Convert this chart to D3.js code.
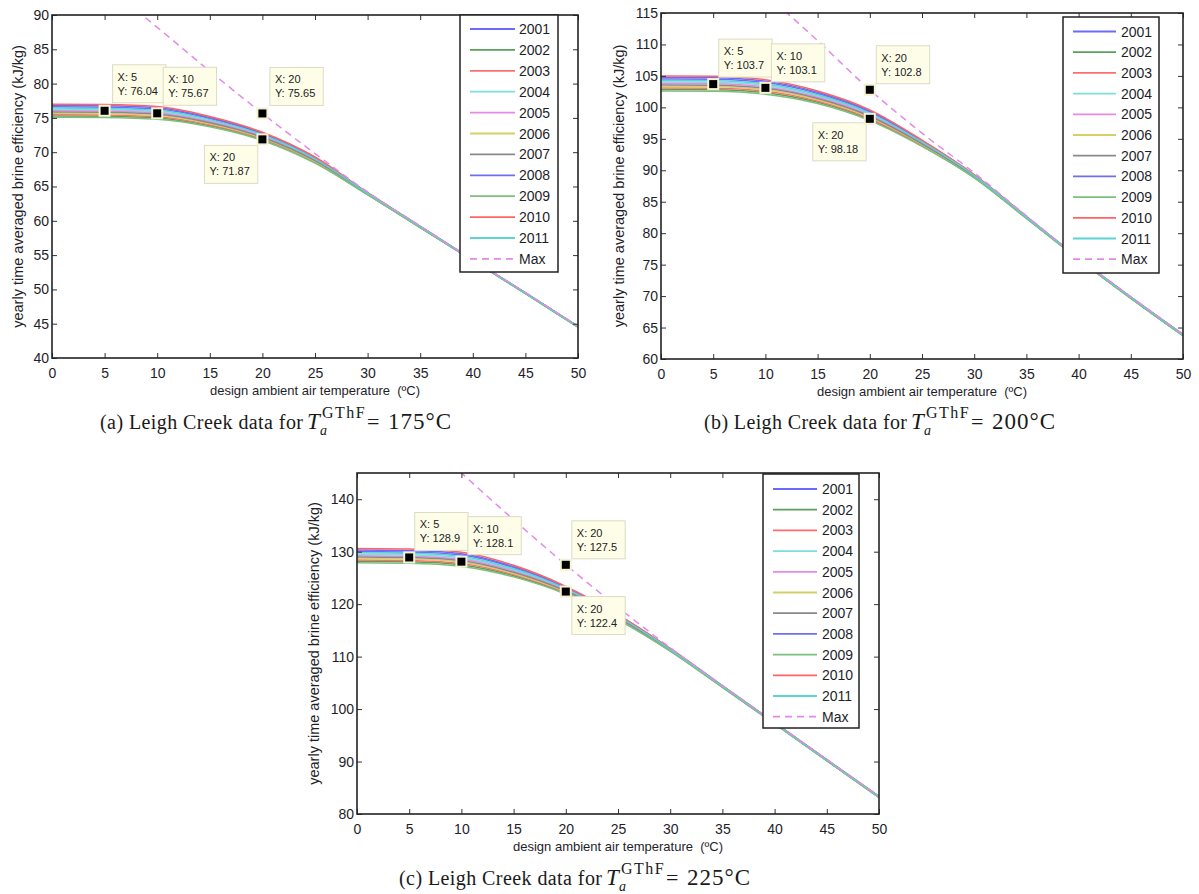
<!DOCTYPE html>
<html><head><meta charset="utf-8">
<script src="https://cdn.jsdelivr.net/npm/d3@7"></script>
<style>body{margin:0;background:#fff}svg{display:block}</style>
</head><body>
<svg id="fig" width="1199" height="894"></svg>
<script>
// ---------------- DATA ----------------
const years = ["2001","2002","2003","2004","2005","2006","2007","2008","2009","2010","2011"];
const xTemps = [0,5,10,15,20,25,30,35,40,45,50];
const xTicks = [0,5,10,15,20,25,30,35,40,45,50];

// Panel (a) T = 175°C
const effA = [
  [76.81,76.76,76.47,75.05,72.78,69.21,64.07,59.18,54.29,49.49,44.59], // 2001
  [75.29,75.24,74.99,73.85,71.82,68.49,63.83,59.02,54.21,49.41,44.51], // 2002
  [75.48,75.43,75.17,74.00,71.94,68.58,63.86,59.04,54.22,49.42,44.52], // 2003
  [76.24,76.19,75.91,74.60,72.42,68.94,63.98,59.12,54.26,49.46,44.56], // 2004
  [76.05,76.00,75.73,74.45,72.30,68.85,63.95,59.10,54.25,49.45,44.55], // 2005
  [75.67,75.62,75.36,74.15,72.06,68.67,63.89,59.06,54.23,49.43,44.53], // 2006
  [75.86,75.81,75.54,74.30,72.18,68.76,63.92,59.08,54.24,49.44,44.54], // 2007
  [76.62,76.57,76.28,74.90,72.66,69.12,64.04,59.16,54.28,49.48,44.58], // 2008
  [75.10,75.05,74.80,73.70,71.70,68.40,63.80,59.00,54.20,49.40,44.50], // 2009
  [77.00,76.95,76.65,75.20,72.90,69.30,64.10,59.20,54.30,49.50,44.60], // 2010
  [76.43,76.38,76.10,74.75,72.54,69.03,64.01,59.14,54.27,49.47,44.57]  // 2011
];
const maxXA = [8,10,15,20,25,30,35,40,45,50];
const maxA  = [90.7,88.2,81.8,75.65,69.8,64.2,59.25,54.35,49.55,44.65];
const yTicksA = [40,45,50,55,60,65,70,75,80,85,90];
const tipXA = [5,10,20,20];
const tipYA = [76.04,75.67,75.65,71.87];

// Panel (b) T = 200°C
const effB = [
  [104.76,104.71,104.17,102.4,99.43,94.70,89.25,82.62,76.03,69.83,63.88], // 2001
  [102.84,102.79,102.33,100.8,98.07,93.90,88.85,82.38,75.87,69.67,63.72], // 2002
  [103.08,103.03,102.56,101.0,98.24,94.00,88.90,82.41,75.89,69.69,63.74], // 2003
  [104.04,103.99,103.48,101.8,98.92,94.40,89.10,82.53,75.97,69.77,63.82], // 2004
  [103.80,103.75,103.25,101.6,98.75,94.30,89.05,82.50,75.95,69.75,63.80], // 2005
  [103.32,103.27,102.79,101.2,98.41,94.10,88.95,82.44,75.91,69.71,63.76], // 2006
  [103.56,103.51,103.02,101.4,98.58,94.20,89.00,82.47,75.93,69.73,63.78], // 2007
  [104.52,104.47,103.94,102.2,99.26,94.60,89.20,82.59,76.01,69.81,63.86], // 2008
  [102.60,102.55,102.10,100.6,97.90,93.80,88.80,82.35,75.85,69.65,63.70], // 2009
  [105.00,104.95,104.40,102.6,99.60,94.80,89.30,82.65,76.05,69.85,63.90], // 2010
  [104.28,104.23,103.71,102.0,99.09,94.50,89.15,82.56,75.99,69.79,63.84]  // 2011
];
const maxXB = [11,15,20,25,30,35,40,45,50];
const maxB  = [116.6,110.6,102.8,95.9,89.6,82.75,76.1,69.9,63.95];
const yTicksB = [60,65,70,75,80,85,90,95,100,105,110,115];
const tipXB = [5,10,20,20];
const tipYB = [103.7,103.1,102.8,98.18];

// Panel (c) T = 225°C
const effC = [
  [130.33,130.23,129.63,127.18,123.25,117.9,111.50,104.42,97.38,90.33,83.33], // 2001
  [128.17,128.07,127.47,125.42,122.05,117.1,111.10,104.18,97.22,90.17,83.17], // 2002
  [128.44,128.34,127.74,125.64,122.20,117.2,111.15,104.21,97.24,90.19,83.19], // 2003
  [129.52,129.42,128.82,126.52,122.80,117.6,111.35,104.33,97.32,90.27,83.27], // 2004
  [129.25,129.15,128.55,126.30,122.65,117.5,111.30,104.30,97.30,90.25,83.25], // 2005
  [128.71,128.61,128.01,125.86,122.35,117.3,111.20,104.24,97.26,90.21,83.21], // 2006
  [128.98,128.88,128.28,126.08,122.50,117.4,111.25,104.27,97.28,90.23,83.23], // 2007
  [130.06,129.96,129.36,126.96,123.10,117.8,111.45,104.39,97.36,90.31,83.31], // 2008
  [127.90,127.80,127.20,125.20,121.90,117.0,111.05,104.15,97.20,90.15,83.15], // 2009
  [130.60,130.50,129.90,127.40,123.40,118.0,111.55,104.45,97.40,90.35,83.35], // 2010
  [129.79,129.69,129.09,126.74,122.95,117.7,111.40,104.36,97.34,90.29,83.29]  // 2011
];
const maxXC = [9,15,20,25,30,35,40,45,50];
const maxC  = [146.8,136.1,127.5,119.4,111.7,104.5,97.45,90.4,83.4];
const yTicksC = [80,90,100,110,120,130,140];
const tipXC = [5,10,20,20];
const tipYC = [128.9,128.1,127.5,122.4];

const captionTemps = ["175","200","225"];
const captionLetters = ["(a)","(b)","(c)"];

// ---------------- STYLE ----------------
const colors = ["#6a6aff","#5aa05a","#ff6e6e","#7cdede","#e68ae6","#d6cf68",
                "#8a8a8a","#6e6ef2","#7cc07c","#ff6464","#5ad4d4"];
const maxColor = "#e38ae8";
const sans = "'Liberation Sans', Arial, Helvetica, sans-serif";
const serif = "'Liberation Serif', 'Times New Roman', serif";
const ink = "#1e1e2a";

const panels = [
  {id:"a", l:52, r:578, t:15, b:358, yDom:[40,90], yTicks:yTicksA, eff:effA, mx:maxXA, my:maxA,
   tx:tipXA, ty:tipYA, tipOff:[[8,-46],[6,-46],[7.5,-46],[-58,6]],
   leg:{x0:460,y0:15,x1:558,y1:272,s0:470,s1:515,tx:519,e0:29,step:20.9},
   ylabX:18, cap:{x:100, y:429}},
  {id:"b", l:661, r:1183, t:13, b:359, yDom:[60,115], yTicks:yTicksB, eff:effB, mx:maxXB, my:maxB,
   tx:tipXB, ty:tipYB, tipOff:[[5.5,-45],[6,-44],[6.5,-44],[-57,4]],
   leg:{x0:1063,y0:17,x1:1159,y1:273,s0:1073,s1:1116,tx:1121,e0:31.5,step:20.7},
   ylabX:619, cap:{x:704, y:429}},
  {id:"c", l:357, r:879, t:473, b:814, yDom:[80,145], yTicks:yTicksC, eff:effC, mx:maxXC, my:maxC,
   tx:tipXC, ty:tipYC, tipOff:[[5.5,-45],[6.5,-45],[6,-44],[6,5]],
   leg:{x0:763,y0:474,x1:859,y1:728,s0:773,s1:817,tx:822,e0:489,step:20.7},
   ylabX:314, cap:{x:399, y:885}}
];

const svg = d3.select("#fig");
const fmt = d3.format(".4~r");

panels.forEach((p, pi) => {
  const x = d3.scaleLinear().domain([0,50]).range([p.l, p.r]);
  const y = d3.scaleLinear().domain(p.yDom).range([p.b, p.t]);
  const g = svg.append("g");

  svg.append("clipPath").attr("id","clip"+p.id).append("rect")
    .attr("x",p.l).attr("y",p.t).attr("width",p.r-p.l).attr("height",p.b-p.t);

  const plot = g.append("g").attr("clip-path",`url(#clip${p.id})`);
  const line = d3.line().x((d,i)=>x(xTemps[i])).y(d=>y(d)).curve(d3.curveMonotoneX);
  p.eff.forEach((s,k)=>{
    plot.append("path").attr("d",line(s)).attr("fill","none")
      .attr("stroke",colors[k]).attr("stroke-width",1.5);
  });
  const mline = d3.line().x(d=>x(d[0])).y(d=>y(d[1])).curve(d3.curveMonotoneX);
  plot.append("path").attr("d",mline(d3.zip(p.mx,p.my))).attr("fill","none")
    .attr("stroke",maxColor).attr("stroke-width",1.5).attr("stroke-dasharray","7,5");

  // axes (ticks inside)
  const styleAxis = sel => {
    sel.select(".domain").remove();
    sel.selectAll(".tick line").attr("stroke","#333").attr("stroke-width",1);
    sel.selectAll("text").attr("fill",ink).style("font-family",sans).style("font-size","14px");
  };
  g.append("g").attr("transform",`translate(0,${p.b})`)
    .call(d3.axisBottom(x).tickValues(xTicks).tickSizeInner(-5).tickSizeOuter(0).tickPadding(10).tickFormat(d3.format("d")))
    .call(styleAxis);
  g.append("g").attr("transform",`translate(0,${p.t})`)
    .call(d3.axisTop(x).tickValues(xTicks).tickSizeInner(-5).tickSizeOuter(0).tickFormat(""))
    .call(styleAxis);
  g.append("g").attr("transform",`translate(${p.l},0)`)
    .call(d3.axisLeft(y).tickValues(p.yTicks).tickSizeInner(-5).tickSizeOuter(0).tickPadding(3).tickFormat(d3.format("d")))
    .call(styleAxis);
  g.append("g").attr("transform",`translate(${p.r},0)`)
    .call(d3.axisRight(y).tickValues(p.yTicks).tickSizeInner(-5).tickSizeOuter(0).tickFormat(""))
    .call(styleAxis);
  g.append("rect").attr("x",p.l).attr("y",p.t).attr("width",p.r-p.l).attr("height",p.b-p.t)
    .attr("fill","none").attr("stroke","#222").attr("stroke-width",1.6);

  // axis labels
  g.append("text").attr("x",(p.l+p.r)/2).attr("y",p.b+37).attr("text-anchor","middle")
    .attr("fill",ink).style("font-family",sans).style("font-size","13px")
    .text("design ambient air temperature \u00a0(\u00baC)");
  g.append("text").attr("transform",`translate(${p.ylabX},${(p.t+p.b)/2}) rotate(-90)`)
    .attr("text-anchor","middle").attr("dy","0.35em")
    .attr("fill",ink).style("font-family",sans).style("font-size","14.5px")
    .text("yearly time averaged brine efficiency (kJ/kg)");

  // datatips
  p.tx.forEach((tx,i)=>{
    const mxp = x(tx), myp = y(p.ty[i]);
    const bx = mxp + p.tipOff[i][0], by = myp + p.tipOff[i][1];
    const tg = g.append("g");
    const rect = tg.append("rect").attr("x",bx).attr("y",by).attr("height",38)
      .attr("fill","#fdfde8").attr("stroke","#dcdcc4").attr("stroke-width",1);
    const t1 = tg.append("text").attr("x",bx+5).attr("y",by+16).text("X: "+fmt(tx));
    const t2 = tg.append("text").attr("x",bx+5).attr("y",by+30).text("Y: "+fmt(p.ty[i]));
    tg.selectAll("text").attr("fill","#222").style("font-family",sans).style("font-size","11px");
    const w = Math.max(t1.node().getComputedTextLength(), t2.node().getComputedTextLength());
    rect.attr("width", w + 13);
    g.append("rect").attr("x",mxp-5).attr("y",myp-5).attr("width",10).attr("height",10)
      .attr("fill","#000").attr("stroke","#f3f3d4").attr("stroke-width",2);
  });

  // legend
  const L = p.leg;
  const lg = g.append("g");
  lg.append("rect").attr("x",L.x0).attr("y",L.y0).attr("width",L.x1-L.x0).attr("height",L.y1-L.y0)
    .attr("fill","#fff").attr("stroke","#222").attr("stroke-width",1.5);
  const entries = years.map((yv,k)=>({name:yv,color:colors[k],dash:null}))
    .concat([{name:"Max",color:maxColor,dash:"7,5"}]);
  entries.forEach((e,k)=>{
    const yy = L.e0 + k*L.step;
    lg.append("line").attr("x1",L.s0).attr("x2",L.s1).attr("y1",yy).attr("y2",yy)
      .attr("stroke",e.color).attr("stroke-width",1.8).attr("stroke-dasharray",e.dash);
    lg.append("text").attr("x",L.tx).attr("y",yy).attr("dy","0.36em").text(e.name)
      .attr("fill",ink).style("font-family",sans).style("font-size","14px");
  });

  // caption (LaTeX-like)
  const S = p.cap.x, B = p.cap.y;
  const cap = svg.append("g").style("font-family",serif).attr("fill","#1a1a1a");
  cap.append("text").attr("x",S).attr("y",B).style("font-size","20px")
    .attr("textLength",203).attr("lengthAdjust","spacing")
    .text(captionLetters[pi]+" Leigh Creek data for");
  cap.append("text").attr("x",S+207).attr("y",B).style("font-size","23px")
    .style("font-style","italic").text("T");
  cap.append("text").attr("x",S+222).attr("y",B-11).style("font-size","16px")
    .style("letter-spacing","1.5px").text("GThF");
  cap.append("text").attr("x",S+220).attr("y",B+6).style("font-size","14px")
    .style("font-style","italic").text("a");
  cap.append("text").attr("x",S+267).attr("y",B).style("font-size","22px").text("=");
  cap.append("text").attr("x",S+288).attr("y",B).style("font-size","23px")
    .style("letter-spacing","1px").text(captionTemps[pi]+"\u00b0C");
});
</script>
</body></html>
